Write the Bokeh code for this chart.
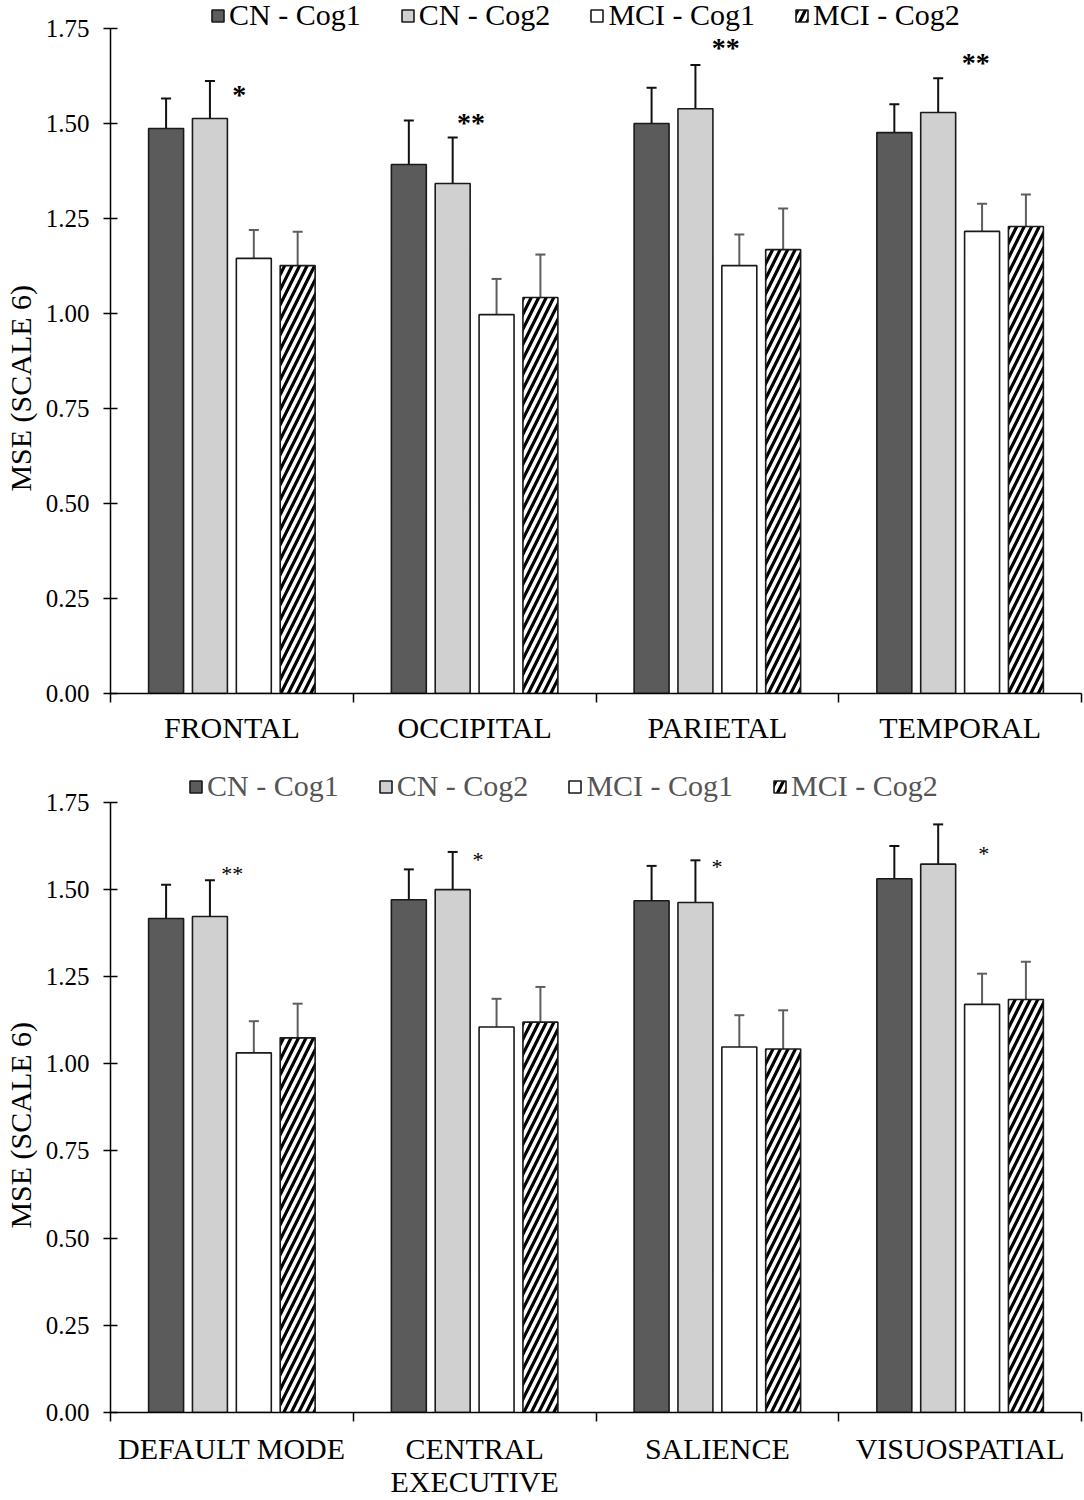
from bokeh.plotting import figure
from bokeh.models import (ColumnDataSource, Range1d, FixedTicker, NumeralTickFormatter,
                          Whisker, TeeHead, Legend, LegendItem)
from bokeh.transform import dodge
from bokeh.layouts import column
from bokeh.core.properties import value
from bokeh.embed import file_html
from bokeh.resources import INLINE

# ---------------- data ----------------
series = ["CN - Cog1", "CN - Cog2", "MCI - Cog1", "MCI - Cog2"]

cats_top = ["FRONTAL", "OCCIPITAL", "PARIETAL", "TEMPORAL"]
cn1_top = [1.487, 1.392, 1.500, 1.476]
cn2_top = [1.513, 1.342, 1.539, 1.529]
mci1_top = [1.145, 0.997, 1.126, 1.216]
mci2_top = [1.126, 1.042, 1.168, 1.229]
cn1_top_err = [0.079, 0.116, 0.094, 0.075]
cn2_top_err = [0.099, 0.121, 0.115, 0.090]
mci1_top_err = [0.075, 0.094, 0.082, 0.073]
mci2_top_err = [0.089, 0.113, 0.108, 0.084]
sig_top = ["*", "**", "**", "**"]
sig_top_y = [1.582, 1.508, 1.705, 1.666]
sig_top_dx = [0.03, -0.015, 0.035, 0.064]

cats_bot = ["DEFAULT MODE", "CENTRAL\nEXECUTIVE", "SALIENCE", "VISUOSPATIAL"]
cn1_bot = [1.416, 1.470, 1.467, 1.530]
cn2_bot = [1.422, 1.499, 1.462, 1.572]
mci1_bot = [1.031, 1.105, 1.048, 1.170]
mci2_bot = [1.074, 1.119, 1.042, 1.184]
cn1_bot_err = [0.097, 0.087, 0.100, 0.094]
cn2_bot_err = [0.104, 0.108, 0.121, 0.114]
mci1_bot_err = [0.091, 0.081, 0.091, 0.088]
mci2_bot_err = [0.098, 0.101, 0.111, 0.108]
sig_bot = ["**", "*", "*", "*"]
sig_bot_y = [1.55, 1.592, 1.572, 1.609]
sig_bot_dx = [0.002, 0.014, -0.002, 0.097]

y_ticks = [0.0, 0.25, 0.5, 0.75, 1.0, 1.25, 1.5, 1.75]
y_max = 1.75

FONT = "Liberation Serif"
W = 1084
NBSP = "\u00a0"


def make_panel(cats, means, errs, sig, sig_y, sig_dx, height, range_top, bottom_border,
               legend_xy, legend_color, sig_size, sig_style, x_standoff):
    # the frame reaches a little above the axis end so the legend can sit on top
    p = figure(width=W, height=height, output_backend="svg", toolbar_location=None,
               x_range=Range1d(0, len(cats)), y_range=Range1d(0, range_top),
               min_border_left=107, min_border_right=3, min_border_top=0,
               min_border_bottom=bottom_border)
    p.outline_line_color = None
    p.grid.visible = False
    p.background_fill_color = "white"

    xc = [i + 0.5 for i in range(len(cats))]
    offs = [-0.271, -0.0904, 0.0904, 0.271]
    fills = ["#5b5b5b", "#d0d0d0", "white", "white"]
    hatches = [None, None, None, "/"]
    err_colors = ["#111111", "#111111", "#5e5e5e", "#5e5e5e"]
    items = []
    for k in range(4):
        src = ColumnDataSource(dict(
            xc=xc, top=means[k],
            upper=[m + e for m, e in zip(means[k], errs[k])],
            lower=[m - e for m, e in zip(means[k], errs[k])]))
        kw = {}
        if hatches[k]:
            kw = dict(hatch_pattern=hatches[k], hatch_color="black",
                      hatch_weight=3.2, hatch_scale=15)
        r = p.vbar(x=dodge("xc", offs[k]), top="top", bottom=0, width=0.144, source=src,
                   fill_color=fills[k], line_color="#1a1a1a", line_width=1.6, **kw)
        items.append(LegendItem(label=series[k], renderers=[r]))
        wk = Whisker(source=src, base=dodge("xc", offs[k]), upper="upper", lower="lower",
                     line_color=err_colors[k], line_width=2,
                     upper_head=TeeHead(size=10, line_color=err_colors[k], line_width=2),
                     lower_head=TeeHead(size=10, line_color=err_colors[k], line_width=2))
        p.add_layout(wk)

    ssrc = ColumnDataSource(dict(x=[c + d for c, d in zip(xc, sig_dx)], y=sig_y, t=sig))
    p.text(x="x", y="y", text="t", source=ssrc, text_font=value(FONT),
           text_font_size=sig_size, text_font_style=sig_style, text_align="center",
           text_baseline="middle", y_offset=2, text_color="black")

    # y axis
    ya = p.yaxis[0]
    ya.bounds = (0, y_max)
    ya.ticker = FixedTicker(ticks=y_ticks)
    ya.formatter = NumeralTickFormatter(format="0.00")
    ya.major_tick_in = 7
    ya.major_tick_out = 7
    ya.minor_tick_line_color = None
    ya.major_label_standoff = 14
    ya.axis_label = "MSE (SCALE 6)" + NBSP * 11
    ya.axis_label_text_font = FONT
    ya.axis_label_text_font_style = "normal"
    ya.axis_label_text_font_size = "30px"
    ya.axis_label_standoff = 6
    ya.axis_label_text_color = "black"

    # x axis: labels at category centers, ticks at category boundaries
    xa = p.xaxis[0]
    xa.ticker = FixedTicker(ticks=xc, minor_ticks=list(range(len(cats) + 1)))
    xa.major_label_overrides = {x: c for x, c in zip(xc, cats)}
    xa.major_tick_line_color = None
    xa.major_tick_in = 0
    xa.major_tick_out = 0
    xa.minor_tick_in = 0
    xa.minor_tick_out = 9
    xa.minor_tick_line_color = "black"
    xa.minor_tick_line_width = 1.5
    xa.major_label_standoff = x_standoff
    xa.major_label_text_font_size = "30px"
    xa.major_label_text_line_height = 1.0

    for ax in (xa, ya):
        ax.axis_line_color = "black"
        ax.axis_line_width = 1.5
        ax.major_label_text_font = FONT
        ax.major_label_text_color = "black"
    ya.major_tick_line_color = "black"
    ya.major_tick_line_width = 1.5
    ya.major_label_text_font_size = "25px"

    leg = Legend(items=items, location=legend_xy, orientation="horizontal",
                 glyph_width=15, glyph_height=15, label_standoff=4, spacing=39,
                 padding=0, margin=0, border_line_color=None, background_fill_alpha=0,
                 label_text_font=FONT, label_text_font_size="30px",
                 label_text_color=legend_color, label_height=30)
    p.add_layout(leg)
    return p


p1 = make_panel(cats_top, [cn1_top, cn2_top, mci1_top, mci2_top],
                [cn1_top_err, cn2_top_err, mci1_top_err, mci2_top_err],
                sig_top, sig_top_y, sig_top_dx, height=755, range_top=1.8237,
                bottom_border=62, legend_xy=(100, 661), legend_color="black",
                sig_size="28px", sig_style="bold", x_standoff=8)
p2 = make_panel(cats_bot, [cn1_bot, cn2_bot, mci1_bot, mci2_bot],
                [cn1_bot_err, cn2_bot_err, mci1_bot_err, mci2_bot_err],
                sig_bot, sig_bot_y, sig_bot_dx, height=745, range_top=1.8835,
                bottom_border=82, legend_xy=(78, 609), legend_color="#555555",
                sig_size="22px", sig_style="normal", x_standoff=10)

layout = column(p1, p2, spacing=0)
open("out.html", "w").write(file_html(layout, INLINE))
